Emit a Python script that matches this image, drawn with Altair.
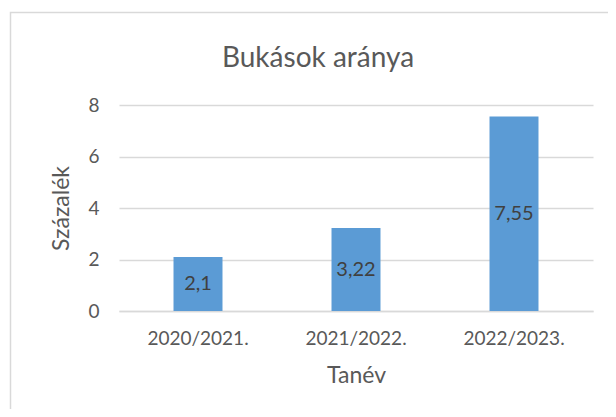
import altair as alt
import pandas as pd

years = ["2020/2021.", "2021/2022.", "2022/2023."]
values = [2.1, 3.22, 7.55]

df = pd.DataFrame({"Tanév": years, "Százalék": values})
df["label"] = [f"{v:g}".replace(".", ",") for v in values]

FONT = "Lato"
TXT = "#595959"
GRID = "#d9d9d9"

x_enc = alt.X("Tanév:N", sort=years,
              scale=alt.Scale(paddingInner=0.69, paddingOuter=0.345),
              axis=alt.Axis(title="Tanév", labelAngle=0, ticks=False,
                            domainColor=GRID, domainWidth=1.5,
                            labelFont=FONT, labelFontSize=19, labelColor=TXT,
                            labelPadding=18, titleFont=FONT, titleFontSize=23,
                            titleFontWeight="normal", titleColor=TXT,
                            titlePadding=16))
y_enc = alt.Y("Százalék:Q", scale=alt.Scale(domain=[0, 8]),
              axis=alt.Axis(title="Százalék", values=[0, 2, 4, 6, 8],
                            domain=False, ticks=False, gridColor=GRID,
                            gridWidth=1.5, labelFont=FONT, labelFontSize=19,
                            labelColor=TXT, labelPadding=20,
                            titleFont=FONT, titleFontSize=23,
                            titleFontWeight="normal", titleColor=TXT,
                            titlePadding=14))

border = alt.Chart(pd.DataFrame({"a": [0]})).mark_rect(
    fillOpacity=0, stroke=GRID, strokeWidth=1.5
).encode(x=alt.value(-108.5), x2=alt.value(560),
         y=alt.value(-92.5), y2=alt.value(340))

bars = alt.Chart(df).mark_bar(color="#5b9bd5").encode(x=x_enc, y=y_enc)

labels = alt.Chart(df).transform_calculate(
    mid="datum['Százalék'] / 2"
).mark_text(font=FONT, fontSize=20, color="#404040", baseline="middle").encode(
    x=alt.X("Tanév:N", sort=years),
    y=alt.Y("mid:Q"),
    text="label:N",
)

chart = alt.layer(border, bars, labels).properties(
    width=474, height=206,
    title=alt.TitleParams("Bukások aránya", font=FONT, fontSize=28,
                          fontWeight="normal", color=TXT, dx=-38, offset=0,
                          baseline="alphabetic", dy=83),
    autosize=alt.AutoSizeParams(type="none"),
    padding={"left": 111, "top": 97, "right": 15, "bottom": 98},
    background="white",
).configure_view(stroke=None)

chart.save("out.html", embed_options={"renderer": "svg", "actions": False})
